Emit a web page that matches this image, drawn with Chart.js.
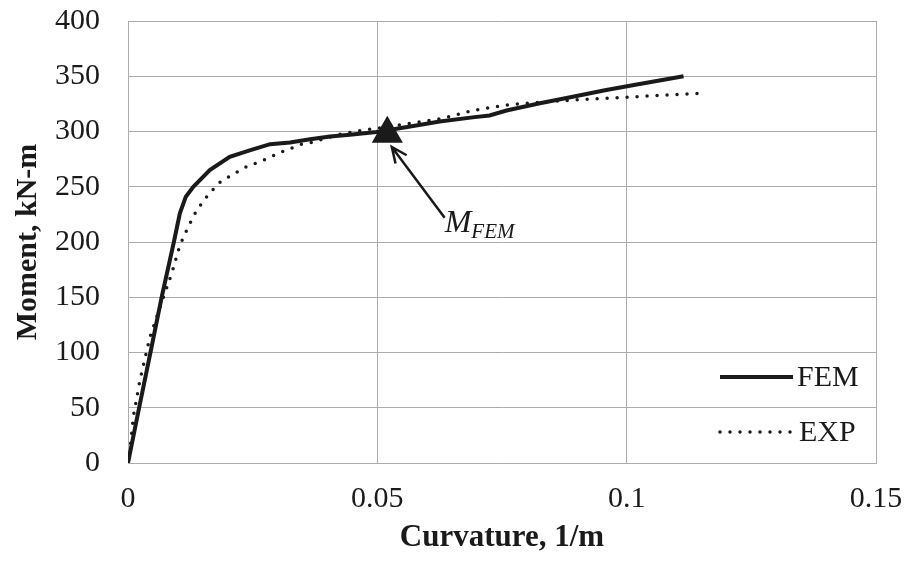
<!DOCTYPE html>
<html>
<head>
<meta charset="utf-8">
<script src="https://cdn.jsdelivr.net/npm/chart.js@4.4.0/dist/chart.umd.min.js"></script>
<style>
  html, body { margin: 0; padding: 0; background: #fff; }
  #wrap { width: 906px; height: 565px; }
</style>
</head>
<body>
<div id="wrap"><canvas id="chart"></canvas></div>
<script>
// Moment-curvature data
const femCurvature = [0, 0.002, 0.0045, 0.00675, 0.0092, 0.0104, 0.0116, 0.0131, 0.0164, 0.0204, 0.0244, 0.0285, 0.0325, 0.0365, 0.0405, 0.0445, 0.0498, 0.056, 0.0625, 0.0695, 0.0725, 0.0759, 0.0826, 0.0892, 0.0959, 0.1026, 0.1114];
const femMoment = [0, 45, 100, 150, 200, 226, 241, 250, 265, 277, 283, 288.5, 290, 293, 295.5, 297, 299.5, 304, 309, 313, 314.5, 319, 325.5, 331.5, 337.5, 343, 350];

const expCurvature = [0, 0.0004, 0.00107, 0.0024, 0.0044, 0.0071, 0.0088, 0.0104, 0.0121, 0.0138, 0.0158, 0.0181, 0.0198, 0.0235, 0.0271, 0.0311, 0.0348, 0.0368, 0.0425, 0.0468, 0.0525, 0.0575, 0.0632, 0.0692, 0.0759, 0.0826, 0.0892, 0.0959, 0.1019, 0.1142];
const expMoment = [0, 12, 42, 75, 114, 150, 172, 197, 214, 229, 241, 253, 258, 267.5, 274, 282, 288.5, 290, 297.5, 301, 304.5, 308, 312, 319, 324, 326.5, 328.5, 330, 331.5, 334.5];

// M_FEM marker and where its label sits
const mFemPoint = [0.052, 298];
const mFemArrowTip = [0.0529, 286];
const mFemLabelAt = [0.0635, 222];

const xTickLabels = ['0', '0.05', '0.1', '0.15'];
const yTickLabels = ['0', '50', '100', '150', '200', '250', '300', '350', '400'];

const toPoints = (xs, ys) => xs.map((x, i) => ({ x: x, y: ys[i] }));

const serif = '"Liberation Serif", "Times New Roman", serif';
const ink = '#1a1a1a';
const gridColor = '#ababab';

// Draws the arrow annotation and the legend in the lower right
const annotationPlugin = {
  id: 'annotations',
  afterDatasetsDraw(chart) {
    const { ctx, chartArea, scales: { x, y } } = chart;
    ctx.save();

    // arrow
    const tipX = x.getPixelForValue(mFemArrowTip[0]);
    const tipY = y.getPixelForValue(mFemArrowTip[1]);
    const tailX = x.getPixelForValue(mFemLabelAt[0]);
    const tailY = y.getPixelForValue(mFemLabelAt[1]);
    ctx.strokeStyle = ink;
    ctx.lineWidth = 2.5;
    ctx.beginPath();
    ctx.moveTo(tailX, tailY);
    ctx.lineTo(tipX, tipY);
    const ang = Math.atan2(tailY - tipY, tailX - tipX);
    const head = 17;
    ctx.moveTo(tipX + head * Math.cos(ang - 0.42), tipY + head * Math.sin(ang - 0.42));
    ctx.lineTo(tipX, tipY);
    ctx.lineTo(tipX + head * Math.cos(ang + 0.42), tipY + head * Math.sin(ang + 0.42));
    ctx.stroke();

    // label M_FEM
    ctx.fillStyle = ink;
    ctx.textBaseline = 'alphabetic';
    ctx.textAlign = 'left';
    ctx.font = 'italic 32px ' + serif;
    ctx.fillText('M', tailX, tailY + 14);
    const mw = ctx.measureText('M').width;
    ctx.font = 'italic 21px ' + serif;
    ctx.fillText('FEM', tailX + mw, tailY + 20);

    // legend
    const lx0 = chartArea.right - 156;
    const lx1 = chartArea.right - 83;
    const fy = chartArea.bottom - 86;
    const ey = chartArea.bottom - 31;
    ctx.lineWidth = 4;
    ctx.beginPath();
    ctx.moveTo(lx0, fy);
    ctx.lineTo(lx1, fy);
    ctx.stroke();
    ctx.setLineDash([0, 10]);
    ctx.lineCap = 'round';
    ctx.lineWidth = 3.5;
    ctx.beginPath();
    ctx.moveTo(lx0, ey);
    ctx.lineTo(lx1, ey);
    ctx.stroke();
    ctx.setLineDash([]);
    ctx.font = '30px ' + serif;
    ctx.textBaseline = 'middle';
    ctx.fillText('FEM', lx1 + 4, fy + 1);
    ctx.fillText('EXP', lx1 + 6, ey + 1);

    ctx.restore();
  },
};

const chart = new Chart(document.getElementById('chart'), {
  type: 'line',
  data: {
    datasets: [
      {
        label: 'FEM',
        data: toPoints(femCurvature, femMoment),
        borderColor: ink,
        borderWidth: 4,
        pointRadius: 0,
        tension: 0,
        order: 2,
      },
      {
        label: 'EXP',
        data: toPoints(expCurvature, expMoment),
        borderColor: ink,
        borderWidth: 3.5,
        borderDash: [0, 10],
        borderCapStyle: 'round',
        pointRadius: 0,
        tension: 0,
        order: 3,
      },
      {
        label: 'M_FEM',
        data: [{ x: mFemPoint[0], y: mFemPoint[1] }],
        showLine: false,
        pointStyle: 'triangle',
        pointRadius: 18,
        pointBackgroundColor: ink,
        pointBorderColor: ink,
        pointBorderWidth: 0,
        order: 1,
      },
    ],
  },
  options: {
    responsive: true,
    maintainAspectRatio: false,
    animation: false,
    layout: {
      padding: { top: 21, right: 30, left: 0, bottom: 0 },
    },
    scales: {
      x: {
        type: 'linear',
        min: 0,
        max: 0.15,
        ticks: {
          stepSize: 0.05,
          color: ink,
          font: { family: serif, size: 30 },
          padding: 18,
          maxRotation: 0,
          callback: (value, i) => xTickLabels[i],
        },
        grid: { color: gridColor, lineWidth: 1, drawTicks: false },
        border: { color: gridColor },
        title: {
          display: true,
          text: 'Curvature, 1/m',
          color: ink,
          font: { family: serif, size: 31, weight: 'bold' },
          padding: { top: 0, bottom: 8 },
        },
        afterFit: (scale) => {
          scale.height = 102;
          scale.paddingLeft = 0;
          scale.paddingRight = 0;
        },
      },
      y: {
        min: 0,
        max: 400,
        ticks: {
          stepSize: 50,
          color: ink,
          font: { family: serif, size: 30 },
          padding: 28,
          callback: (value, i) => yTickLabels[i],
        },
        grid: { color: gridColor, lineWidth: 1, drawTicks: false },
        border: { color: gridColor },
        title: {
          display: true,
          text: 'Moment, kN-m',
          color: ink,
          font: { family: serif, size: 30, weight: 'bold' },
          padding: { top: 10, bottom: 0 },
        },
        afterFit: (scale) => {
          scale.width = 128;
          scale.paddingTop = 0;
          scale.paddingBottom = 0;
        },
      },
    },
    plugins: {
      legend: { display: false },
      tooltip: { enabled: false },
    },
  },
  plugins: [annotationPlugin],
});
</script>
</body>
</html>
